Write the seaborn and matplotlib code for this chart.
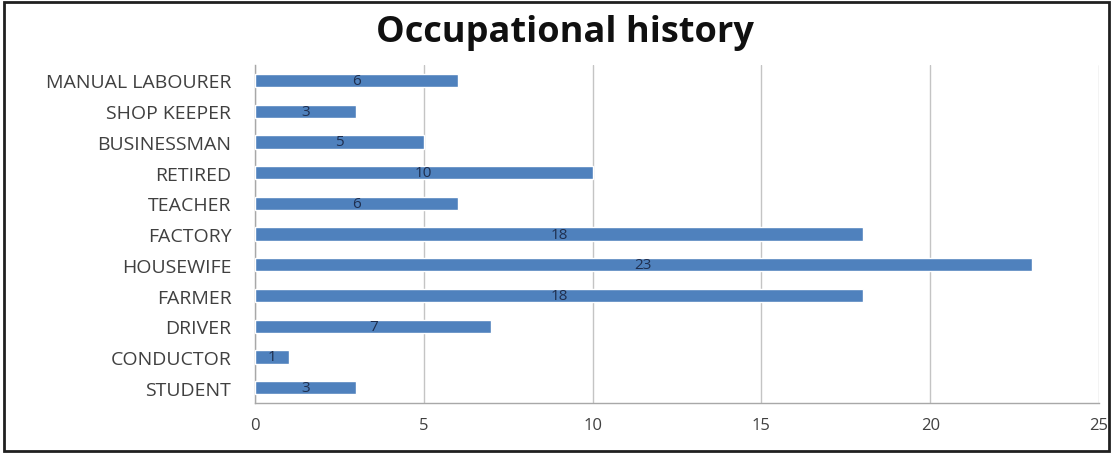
import matplotlib
matplotlib.use("Agg")
import matplotlib.pyplot as plt
import seaborn as sns
import pandas as pd
from matplotlib.patches import Rectangle

occupations = ["MANUAL LABOURER", "SHOP KEEPER", "BUSINESSMAN", "RETIRED", "TEACHER",
               "FACTORY", "HOUSEWIFE", "FARMER", "DRIVER", "CONDUCTOR", "STUDENT"]
counts = [6, 3, 5, 10, 6, 18, 23, 18, 7, 1, 3]
x_ticks = [0, 5, 10, 15, 20, 25]

df = pd.DataFrame({"occupation": occupations, "count": counts})

sns.set_theme(style="white")
plt.rcParams["font.family"] = ["Open Sans", "DejaVu Sans"]

fig = plt.figure(figsize=(11.15, 4.56), dpi=100)
ax = fig.add_axes([0.2287, 0.114, 0.757, 0.741])

sns.barplot(data=df, x="count", y="occupation", order=occupations, orient="h",
            color="#4F81BD", saturation=1, width=0.43, ax=ax, zorder=3)

for patch, v in zip(ax.patches, counts):
    cy = patch.get_y() + patch.get_height() / 2
    ax.text(v / 2, cy, str(v), ha="center", va="center", fontsize=11,
            color="#1F2F4F", zorder=4)

ax.set_xlim(0, 25)
ax.set_xticks(x_ticks)
ax.set_ylim(len(occupations) - 0.5, -0.5)
ax.xaxis.grid(True, color="#C4C4C4", linewidth=1, zorder=0)
ax.set_xlabel("")
ax.set_ylabel("")

ax.tick_params(axis="x", colors="#404040", labelsize=12, length=5, width=1,
               direction="out", pad=5, color="#A8A8A8")
ax.tick_params(axis="y", which="major", length=0, labelsize=14, colors="#404040", pad=17)
ax.set_yticks([i - 0.5 for i in range(len(occupations) + 1)], minor=True)
ax.tick_params(axis="y", which="minor", length=5, width=1, color="#A8A8A8")

for side in ["top", "right"]:
    ax.spines[side].set_visible(False)
for side in ["left", "bottom"]:
    ax.spines[side].set_color("#A8A8A8")
    ax.spines[side].set_linewidth(1)

fig.text(0.507, 0.928, "Occupational history", ha="center", va="center",
         fontsize=26, fontweight="bold", color="#101010")

fig.patches.append(Rectangle((0.004, 0.008), 0.991, 0.985, transform=fig.transFigure,
                             fill=False, edgecolor="#202020", linewidth=2))

fig.savefig("out.png", dpi=100)
